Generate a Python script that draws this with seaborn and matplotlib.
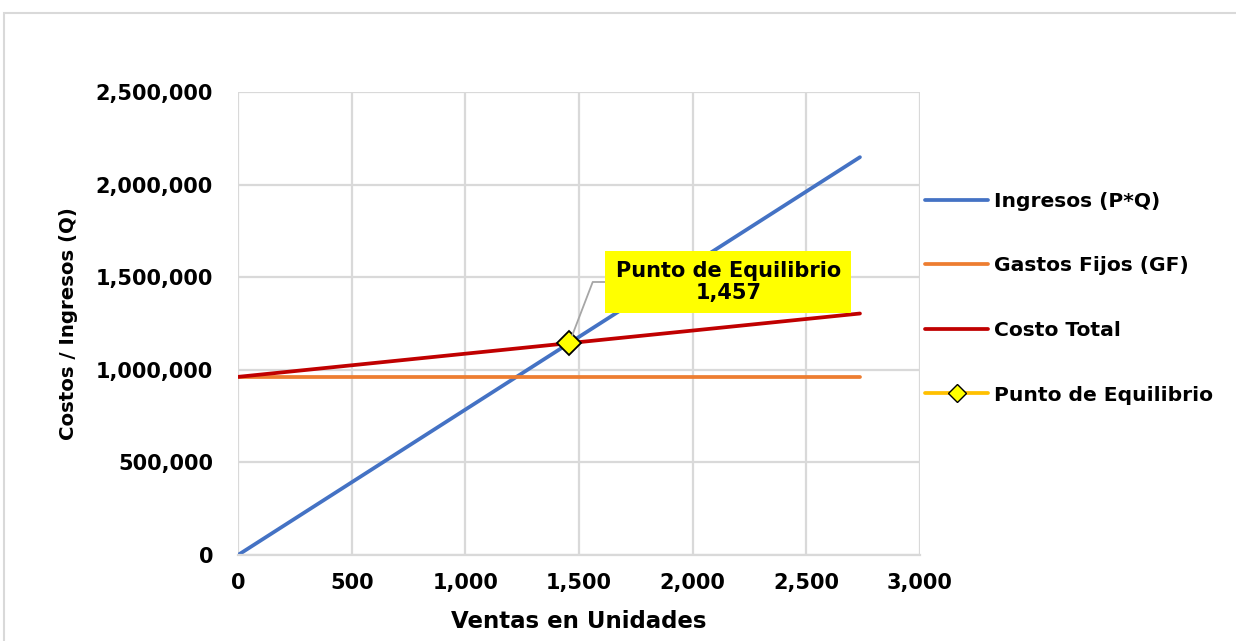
import numpy as np
import pandas as pd
import matplotlib
matplotlib.use("Agg")
import matplotlib.pyplot as plt
import seaborn as sns
from matplotlib.ticker import FuncFormatter
from matplotlib.lines import Line2D
from matplotlib.patches import Rectangle

# datos
unidades = [0, 2736]
ingresos = [0, 2148000]
gastos_fijos = [961800, 961800]
costo_total = [961800, 1303800]
pe_unidades = [1457]
pe_valor = [1143700]
etiqueta_pe = "Punto de Equilibrio\n1,457"

df = pd.DataFrame({
    "Ventas": unidades * 3,
    "Valor": ingresos + gastos_fijos + costo_total,
    "Serie": ["Ingresos (P*Q)"] * 2 + ["Gastos Fijos (GF)"] * 2 + ["Costo Total"] * 2,
})
colores = {"Ingresos (P*Q)": "#4472C4", "Gastos Fijos (GF)": "#ED7D31", "Costo Total": "#C00000"}

sns.set_style("white")
plt.rcParams["font.family"] = ["DejaVu Sans"]
plt.rcParams["text.color"] = "black"
plt.rcParams["xtick.color"] = "black"
plt.rcParams["ytick.color"] = "black"
plt.rcParams["axes.labelcolor"] = "black"

fig = plt.figure(figsize=(12.36, 6.41), dpi=100)
ax = fig.add_axes([0.1926, 0.1342, 0.5517, 0.7223])

# borde del area del grafico (estilo Excel)
fig.patches.append(Rectangle((0.003, -0.1), 1.2, 1.08, transform=fig.transFigure,
                             fill=False, edgecolor="#d9d9d9", linewidth=1.5))

sns.lineplot(data=df, x="Ventas", y="Valor", hue="Serie", palette=colores,
             linewidth=2.7, ax=ax, legend=False)
sns.lineplot(x=pe_unidades, y=pe_valor, ax=ax, color="#FFC000", marker="D",
             markersize=12, markerfacecolor="#FFFF00", markeredgecolor="black",
             markeredgewidth=1.3, legend=False, zorder=5)

ax.set_xlim(0, 3000)
ax.set_ylim(0, 2500000)
ax.set_xticks(np.arange(0, 3001, 500))
ax.set_yticks(np.arange(0, 2500001, 500000))
fmt = FuncFormatter(lambda v, p: f"{int(v):,}")
ax.xaxis.set_major_formatter(fmt)
ax.yaxis.set_major_formatter(fmt)
ax.grid(True, color="#d9d9d9", linewidth=1.6)
ax.set_axisbelow(True)
for s in ["top", "right", "left"]:
    ax.spines[s].set_visible(False)
ax.spines["bottom"].set_color("#d9d9d9")
ax.spines["bottom"].set_linewidth(1.6)
ax.tick_params(axis="y", length=0, pad=18, labelsize=15)
ax.tick_params(axis="x", length=0, pad=13, labelsize=15)
for lbl in ax.get_xticklabels() + ax.get_yticklabels():
    lbl.set_fontweight("bold")

ax.set_xlabel("Ventas en Unidades", fontsize=16.5, fontweight="bold", labelpad=12)
ax.set_ylabel("Costos / Ingresos (Q)", fontsize=14.2, fontweight="bold", labelpad=13)

# etiqueta del punto de equilibrio
ax.annotate(etiqueta_pe, xy=(pe_unidades[0], pe_valor[0]), xycoords="data",
            xytext=(2157, 1474000), textcoords="data",
            ha="center", va="center", fontsize=15, fontweight="bold",
            multialignment="center", linespacing=1.1,
            bbox=dict(boxstyle="square,pad=0.5", fc="#FFFF00", ec="none"),
            arrowprops=dict(arrowstyle="-", color="#a6a6a6", lw=1.3, relpos=(0, 0.5),
                            shrinkA=0, shrinkB=6,
                            connectionstyle="angle,angleA=180,angleB=69,rad=0"),
            zorder=6)

handles = [Line2D([], [], color=colores[k], lw=2.7) for k in colores]
handles.append(Line2D([], [], color="#FFC000", lw=2.7, marker="D", markersize=9,
                      markerfacecolor="#FFFF00", markeredgecolor="black"))
labels = list(colores) + ["Punto de Equilibrio"]
leg = fig.legend(handles, labels, loc="center left", bbox_to_anchor=(0.734, 0.535),
                 frameon=False, fontsize=14.6, handlelength=3.1, handletextpad=0.3,
                 labelspacing=2.25)
for t in leg.get_texts():
    t.set_fontweight("bold")

fig.savefig("out.png", dpi=100)
